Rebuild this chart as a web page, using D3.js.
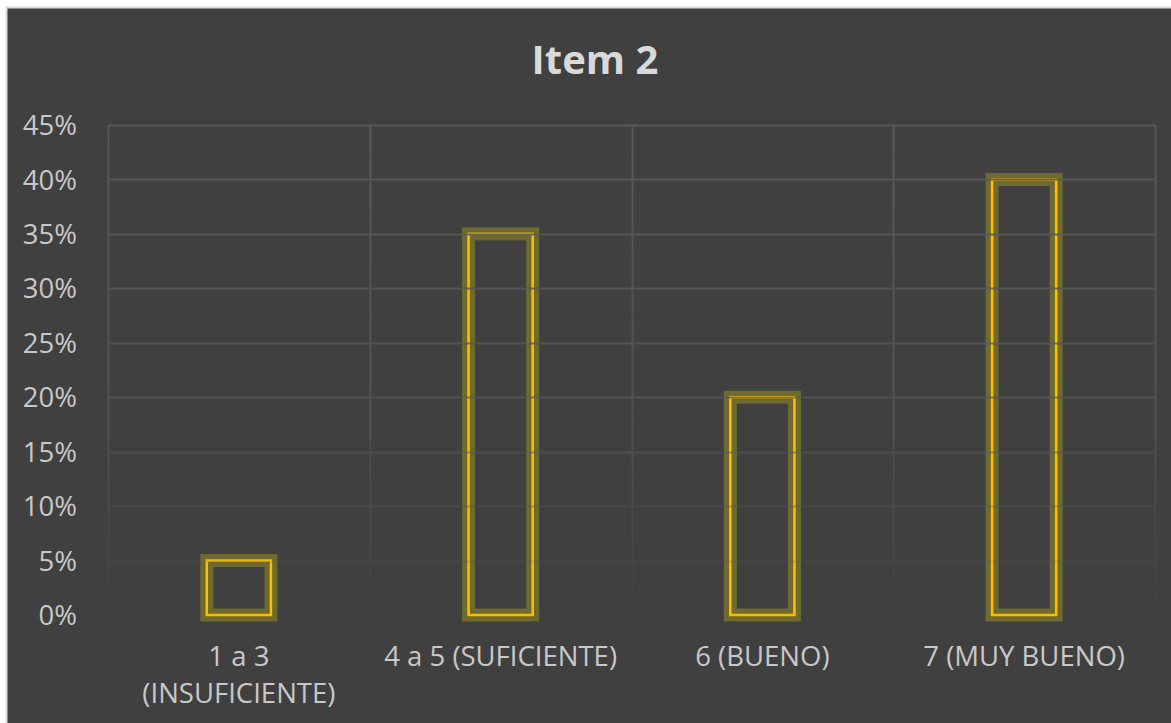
<!DOCTYPE html>
<html>
<head>
<meta charset="utf-8">
<script src="https://cdn.jsdelivr.net/npm/d3@7"></script>
<style>
  html, body { margin: 0; padding: 0; background: #ffffff; }
  svg { display: block; }
</style>
</head>
<body>
<svg id="chart" width="1171" height="723"></svg>
<script>
const title = "Item 2";
const categories = [["1 a 3", "(INSUFICIENTE)"], ["4 a 5 (SUFICIENTE)"], ["6 (BUENO)"], ["7 (MUY BUENO)"]];
const values = [0.05, 0.35, 0.20, 0.40];
const yTicks = [0, 0.05, 0.10, 0.15, 0.20, 0.25, 0.30, 0.35, 0.40, 0.45];

const svg = d3.select("#chart");
const W = 1171, H = 723;
const margin = { left: 108, right: 16, top: 125, bottom: 108 };
const plotW = W - margin.left - margin.right;
const plotH = H - margin.top - margin.bottom;
const font = "'Open Sans', 'Liberation Sans', sans-serif";

// chart background with border
svg.append("rect").attr("x", 6.5).attr("y", 7.5).attr("width", W).attr("height", H)
  .attr("fill", "#404040").attr("stroke", "#d9d9d9").attr("stroke-width", 2);

const defs = svg.append("defs");
const grad = defs.append("linearGradient").attr("id", "fade")
  .attr("gradientUnits", "userSpaceOnUse")
  .attr("x1", 0).attr("x2", 0).attr("y1", margin.top).attr("y2", margin.top + plotH);
grad.append("stop").attr("offset", "0%").attr("stop-color", "#fff").attr("stop-opacity", 1);
grad.append("stop").attr("offset", "55%").attr("stop-color", "#fff").attr("stop-opacity", 0.75);
grad.append("stop").attr("offset", "100%").attr("stop-color", "#fff").attr("stop-opacity", 0.05);
const mask = defs.append("mask").attr("id", "gridMask").attr("maskUnits", "userSpaceOnUse");
mask.append("rect").attr("x", 0).attr("y", 0).attr("width", W).attr("height", H).attr("fill", "url(#fade)");

const g = svg.append("g").attr("transform", `translate(${margin.left},${margin.top})`);

const x = d3.scaleBand().domain(d3.range(categories.length)).range([0, plotW]).paddingInner(0).paddingOuter(0);
const y = d3.scaleLinear().domain([0, 0.45]).range([plotH, 0]);

// title
svg.append("text").attr("x", 595).attr("y", 74)
  .attr("text-anchor", "middle").attr("font-family", font).attr("font-weight", "bold")
  .attr("font-size", 40).attr("fill", "#d9d9d9").text(title);

// gridlines (faded toward bottom)
const grid = svg.append("g").attr("mask", "url(#gridMask)")
  .append("g").attr("transform", `translate(${margin.left},${margin.top})`);
grid.selectAll("line.h").data(yTicks).join("line").attr("class", "h")
  .attr("x1", 0).attr("x2", plotW)
  .attr("y1", d => Math.round(y(d)) + 0.5).attr("y2", d => Math.round(y(d)) + 0.5)
  .attr("stroke", "#595959").attr("stroke-width", 2);
const vEdges = d3.range(categories.length + 1).map(i => i < categories.length ? x(i) : plotW);
grid.selectAll("line.v").data(vEdges).join("line").attr("class", "v")
  .attr("x1", d => Math.round(d) + 0.5).attr("x2", d => Math.round(d) + 0.5)
  .attr("y1", y(0.45)).attr("y2", y(0))
  .attr("stroke", "#595959").attr("stroke-width", 2);

// y axis labels
const yAxis = d3.axisLeft(y).tickValues(yTicks).tickFormat(d3.format(".0%")).tickSize(0).tickPadding(31);
const ya = g.append("g").call(yAxis);
ya.select(".domain").remove();
ya.selectAll("text").attr("font-family", font).attr("font-size", 27.5).attr("fill", "#c8c8c8").attr("dy", "0.35em");

// bars
const bw = x.bandwidth() * 0.245;
const bars = g.append("g").selectAll("g").data(values).join("g");
bars.append("rect")
  .attr("x", (d, i) => x(i) + x.bandwidth() / 2 - bw / 2)
  .attr("y", d => y(d))
  .attr("width", bw).attr("height", d => y(0) - y(d))
  .attr("fill", "none").attr("stroke", "rgba(190,180,20,0.36)").attr("stroke-width", 13);
bars.append("rect")
  .attr("x", (d, i) => x(i) + x.bandwidth() / 2 - bw / 2)
  .attr("y", d => y(d))
  .attr("width", bw).attr("height", d => y(0) - y(d))
  .attr("fill", "none").attr("stroke", "#FFC000").attr("stroke-width", 2.5);

// x labels
const xl = g.append("g").selectAll("text").data(categories).join("text")
  .attr("x", (d, i) => x(i) + x.bandwidth() / 2)
  .attr("y", plotH + 51)
  .attr("text-anchor", "middle").attr("font-family", font).attr("font-size", 27.5).attr("fill", "#c8c8c8");
xl.selectAll("tspan").data(d => d).join("tspan")
  .attr("x", function() { return d3.select(this.parentNode).attr("x"); })
  .attr("dy", (d, i) => i === 0 ? 0 : 37)
  .text(d => d);
</script>
</body>
</html>
